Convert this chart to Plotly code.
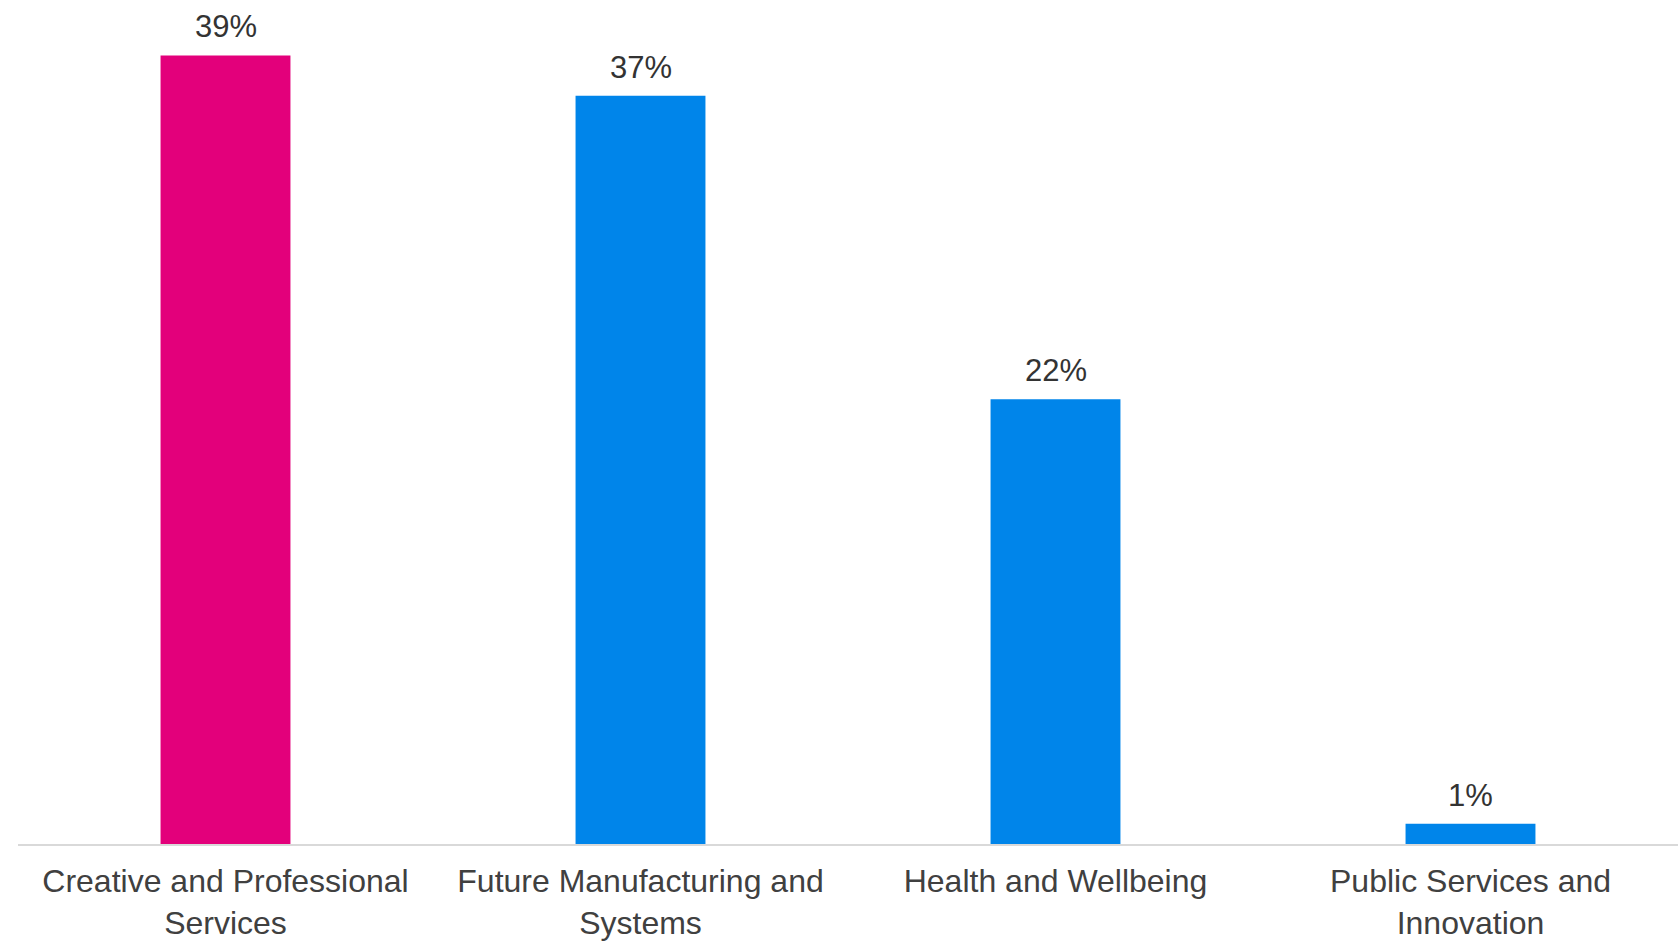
import plotly.graph_objects as go

# Share of activity by sector (percent)
categories = [
    "Creative and Professional<br>Services",
    "Future Manufacturing and<br>Systems",
    "Health and Wellbeing",
    "Public Services and<br>Innovation",
]
values = [39, 37, 22, 1]
bar_colors = ["#E3007B", "#0085EA", "#0085EA", "#0085EA"]

FONT = "Liberation Sans, Arial, sans-serif"

fig = go.Figure(
    go.Bar(
        x=categories,
        y=values,
        marker=dict(color=bar_colors, line=dict(width=0)),
        cliponaxis=False,
        hoverinfo="skip",
    )
)

# Percentage labels sitting above each bar
for cat, v in zip(categories, values):
    fig.add_annotation(
        x=cat,
        y=v,
        text=f"{v}%",
        showarrow=False,
        yanchor="bottom",
        yshift=9,
        font=dict(family=FONT, size=31, color="#333333"),
    )

fig.update_layout(
    width=1678,
    height=945,
    margin=dict(l=18, r=0, t=0, b=101),
    paper_bgcolor="white",
    plot_bgcolor="white",
    bargap=0.687,
    showlegend=False,
    font=dict(family=FONT, size=32, color="#404040"),
)
fig.update_xaxes(
    showline=True,
    linecolor="#D9D9D9",
    linewidth=2,
    ticks="",
    showgrid=False,
    ticklabelstandoff=8,
    tickfont=dict(size=32, color="#404040"),
)
fig.update_yaxes(
    range=[0, 41.74],
    visible=False,
    showgrid=False,
    zeroline=False,
)

fig.write_html("out.html")
